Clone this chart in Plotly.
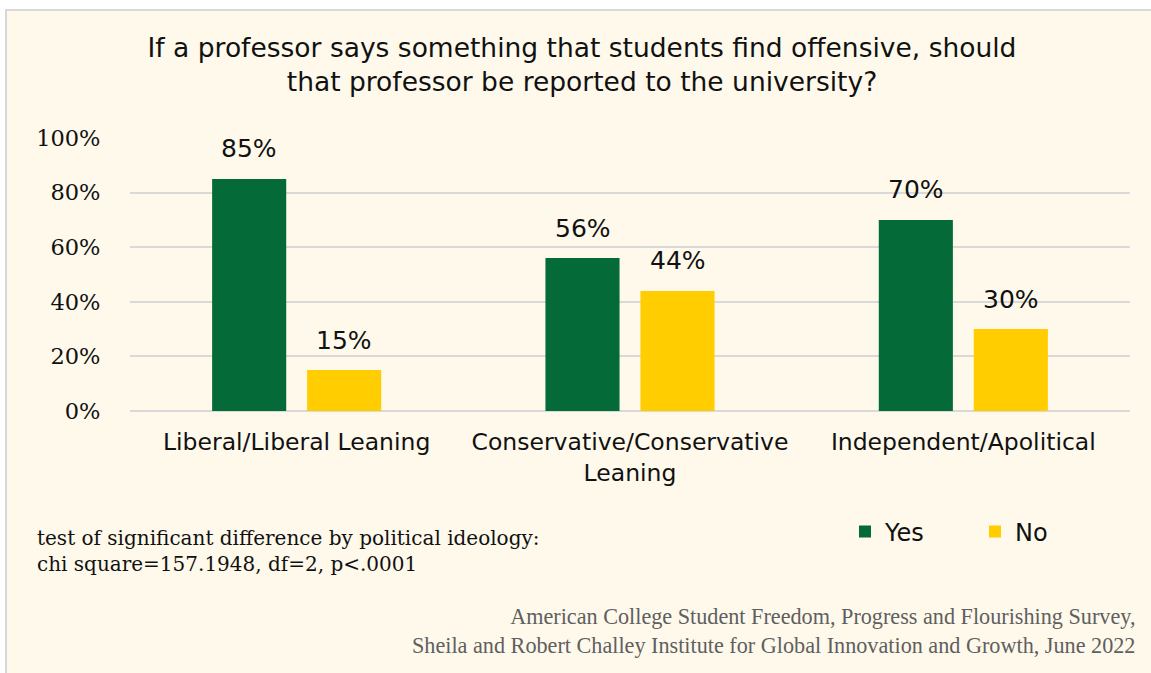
import plotly.graph_objects as go

# Survey responses by political ideology
categories = ["Liberal/Liberal Leaning", "Conservative/Conservative<br>Leaning", "Independent/Apolitical"]
yes_values = [85, 56, 70]
no_values = [15, 44, 30]
y_ticks = [0, 20, 40, 60, 80, 100]
y_tick_labels = ["0%", "20%", "40%", "60%", "80%", "100%"]

GREEN = "#046A38"
YELLOW = "#FFCD00"
CREAM = "#FEF9EB"
GRID = "#D9D9D9"
SANS = "DejaVu Sans, Verdana, sans-serif"
SERIF = "DejaVu Serif, serif"
NARROW_SERIF = "Liberation Serif, serif"

W, H = 1151, 673
L, R, T, B = 130, 21, 138, 262
plot_w = W - L - R
plot_h = H - T - B

fig = go.Figure()
fig.add_trace(go.Bar(name="Yes", x=categories, y=yes_values, marker_color=GREEN,
                     marker_line_width=0))
fig.add_trace(go.Bar(name="No", x=categories, y=no_values, marker_color=YELLOW,
                     marker_line_width=0))

# value labels above each bar
slot = plot_w / len(categories) * (1 - 0.43) / 2
for series, offset in ((yes_values, -slot / 2), (no_values, slot / 2)):
    for cat, v in zip(categories, series):
        fig.add_annotation(x=cat, y=v, xref="x", yref="y", text=f"{v}%",
                           showarrow=False, xshift=offset, yshift=30,
                           font=dict(family=SANS, size=25, color="#111"))

# cream card behind the chart
def px_x(p):
    return (p - L) / plot_w

def px_y(p):
    return (T + plot_h - p) / plot_h

fig.add_shape(type="rect", xref="paper", yref="paper", layer="below",
              x0=px_x(6), x1=px_x(1160), y0=px_y(10), y1=px_y(690),
              fillcolor=CREAM, line=dict(color="#D8D8D8", width=2))

fig.add_annotation(xref="paper", yref="paper", x=px_x(35), y=px_y(551),
                   xanchor="left", yanchor="middle", align="left", showarrow=False,
                   text="test of significant difference by political ideology:<br>chi square=157.1948, df=2, p<.0001",
                   font=dict(family=SERIF, size=20, color="#111"))
fig.add_annotation(xref="paper", yref="paper", x=px_x(1137), y=px_y(631),
                   xanchor="right", yanchor="middle", align="right", showarrow=False,
                   text="American College Student Freedom, Progress and Flourishing Survey,<br>Sheila and Robert Challey Institute for Global Innovation and Growth, June 2022",
                   font=dict(family=NARROW_SERIF, size=22.2, color="#5F5F5F"))

fig.update_layout(
    width=W, height=H,
    margin=dict(l=L, r=R, t=T, b=B, autoexpand=False),
    paper_bgcolor="white",
    plot_bgcolor="rgba(0,0,0,0)",
    barmode="group", bargap=0.43, bargroupgap=0.22,
    title=dict(text="If a professor says something that students find offensive, should<br>that professor be reported to the university?",
               x=582 / W, xanchor="center", y=1 - 57 / H, yanchor="middle",
               xref="container", yref="container",
               font=dict(family=SANS, size=26.5, color="#111")),
    showlegend=True,
    legend=dict(orientation="h", x=px_x(845), y=px_y(532), xanchor="left", yanchor="middle",
                font=dict(family=SANS, size=24, color="#111"), bgcolor="rgba(0,0,0,0)",
                entrywidth=85, entrywidthmode="pixels", itemwidth=30),
    xaxis=dict(tickfont=dict(family=SANS, size=23.5, color="#111"), showgrid=False,
               showline=False, ticks="outside", ticklen=10, tickcolor="rgba(0,0,0,0)"),
    yaxis=dict(range=[0, 100], tickvals=y_ticks, ticktext=y_tick_labels,
               tickfont=dict(family=SERIF, size=22.5, color="#111"),
               gridcolor=GRID, gridwidth=2, zeroline=True, zerolinecolor=GRID, zerolinewidth=2,
               showline=False, ticks="outside", ticklen=24, tickcolor="rgba(0,0,0,0)"),
)

fig.write_html("out.html")
